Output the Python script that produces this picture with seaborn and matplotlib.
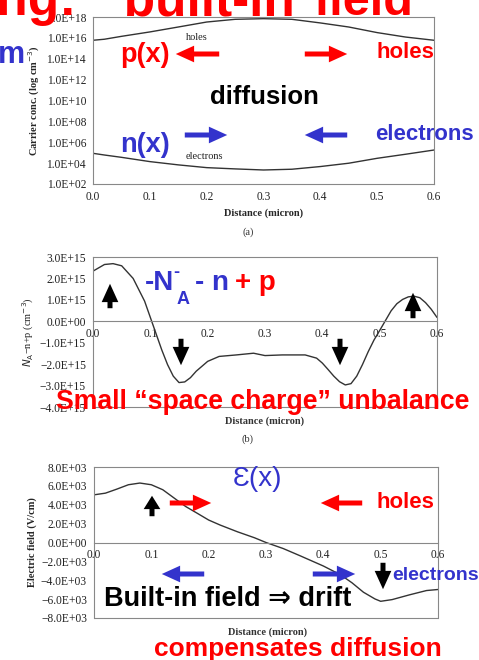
import numpy as np
import pandas as pd
import matplotlib
matplotlib.use("Agg")
import matplotlib.pyplot as plt
import seaborn as sns

# ---------------- data ----------------
dist_a = [0.0, 0.02, 0.05, 0.1, 0.15, 0.2, 0.25, 0.3, 0.35, 0.4, 0.45, 0.5, 0.55, 0.6]
holes = [5.9e15, 7.4e15, 1.4e16, 3.7e16, 1.1e17, 3.3e17, 6.0e17, 6.9e17, 6.0e17,
         2.7e17, 1.1e17, 3.2e16, 1.2e16, 5.9e15]
electrons = [8.7e4, 6.0e4, 3.6e4, 1.4e4, 6.8e3, 3.7e3, 2.8e3, 2.2e3, 2.6e3,
             4.7e3, 9.8e3, 2.9e4, 7.1e4, 1.8e5]

dist_b = [0.0, 0.02, 0.035, 0.05, 0.07, 0.09, 0.10, 0.11, 0.12, 0.13, 0.14, 0.15, 0.16,
          0.17, 0.18, 0.20, 0.22, 0.25, 0.28, 0.30, 0.33, 0.37, 0.39, 0.40, 0.41, 0.42,
          0.43, 0.44, 0.45, 0.46, 0.47, 0.48, 0.49, 0.50, 0.51, 0.52, 0.53, 0.54, 0.55,
          0.56, 0.57, 0.58, 0.59, 0.60]
charge = [2.34, 2.65, 2.69, 2.59, 2.0, 0.94, 0.18, -0.58, -1.34, -2.02, -2.56, -2.86,
          -2.83, -2.63, -2.33, -1.87, -1.64, -1.57, -1.49, -1.60, -1.57, -1.57, -1.72,
          -1.95, -2.25, -2.56, -2.82, -2.97, -2.91, -2.56, -2.02, -1.42, -0.88, -0.43,
          0.03, 0.49, 0.82, 1.02, 1.14, 1.17, 1.10, 0.87, 0.56, 0.18]  # x 1e15 cm^-3

dist_c = [0.0, 0.02, 0.04, 0.06, 0.08, 0.10, 0.12, 0.14, 0.16, 0.18, 0.20, 0.22, 0.25,
          0.28, 0.30, 0.33, 0.36, 0.40, 0.43, 0.45, 0.47, 0.49, 0.50, 0.52, 0.55, 0.58, 0.60]
efield = [5.05, 5.23, 5.66, 6.12, 6.30, 6.12, 5.59, 4.70, 3.81, 3.10, 2.38, 1.85, 1.14,
          0.50, 0.0, -0.64, -1.42, -2.49, -3.42, -4.27, -5.27, -5.98, -6.23, -6.05, -5.55,
          -5.09, -4.98]  # x 1e3 V/cm

xticks = [0.0, 0.1, 0.2, 0.3, 0.4, 0.5, 0.6]
xtick_labels = ["0.0", "0.1", "0.2", "0.3", "0.4", "0.5", "0.6"]
a_ticks = [1e2, 1e4, 1e6, 1e8, 1e10, 1e12, 1e14, 1e16, 1e18]
a_labels = ["1.0E+02", "1.0E+04", "1.0E+06", "1.0E+08", "1.0E+10", "1.0E+12",
            "1.0E+14", "1.0E+16", "1.0E+18"]
b_ticks = [-4, -3, -2, -1, 0, 1, 2, 3]
b_labels = ["\u22124.0E+15", "\u22123.0E+15", "\u22122.0E+15", "\u22121.0E+15",
            "0.0E+00", "1.0E+15", "2.0E+15", "3.0E+15"]
c_ticks = [-8, -6, -4, -2, 0, 2, 4, 6, 8]
c_labels = ["\u22128.0E+03", "\u22126.0E+03", "\u22124.0E+03", "\u22122.0E+03",
            "0.0E+00", "2.0E+03", "4.0E+03", "6.0E+03", "8.0E+03"]

# ---------------- figure ----------------
sns.set_theme(style="white")
plt.rcParams["font.family"] = ["Liberation Serif", "DejaVu Serif"]
W, H = 479, 660
fig = plt.figure(figsize=(W / 100, H / 100), dpi=100)
fig.patch.set_facecolor("white")

SANS = ["Liberation Sans", "DejaVu Sans"]
RED = "#ff0000"
BLUE = "#3333cc"
FRAME = "#888888"
LINE = "#333333"


def ax_at(left, top, right, bottom):
    return fig.add_axes([left / W, 1 - bottom / H, (right - left) / W, (bottom - top) / H])


def style_frame(ax):
    for s in ax.spines.values():
        s.set_color(FRAME)
        s.set_linewidth(0.8)
    ax.tick_params(axis="both", direction="inout", length=6, width=0.8, color="#555555",
                   labelsize=8.3, labelcolor="#222222", pad=2)
    ax.set_facecolor("none")


# ---- (a) carrier concentration ----
ax1 = ax_at(93, 17, 434, 184)
dfa = pd.DataFrame({"x": dist_a, "holes": holes, "electrons": electrons})
sns.lineplot(data=dfa, x="x", y="holes", ax=ax1, color=LINE, lw=1.0)
sns.lineplot(data=dfa, x="x", y="electrons", ax=ax1, color=LINE, lw=1.0)
ax1.set_yscale("log")
ax1.set_xlim(0, 0.6)
ax1.set_ylim(1e2, 1e18)
ax1.set_yticks(a_ticks)
ax1.set_yticklabels(a_labels)
ax1.minorticks_off()
ax1.set_xticks(xticks)
ax1.set_xticklabels(xtick_labels)
style_frame(ax1)
ax1.set_xlabel("Distance (micron)", fontsize=7.5, fontweight="bold", labelpad=4)
ax1.set_ylabel("Carrier conc. (log cm$^{-3}$)", fontsize=7.5, fontweight="bold", labelpad=3)
ax1.text(0.163, 1.0e16, "holes", fontsize=7.5, color="#222222", va="center")
ax1.text(0.163, 4.0e4, "electrons", fontsize=7.5, color="#222222", va="center")

# ---- (b) space charge ----
ax2 = ax_at(93, 257, 437, 407)
dfb = pd.DataFrame({"x": dist_b, "q": charge})
sns.lineplot(data=dfb, x="x", y="q", ax=ax2, color=LINE, lw=1.0)
ax2.set_xlim(0, 0.6)
ax2.set_ylim(-4, 3)
ax2.set_yticks(b_ticks)
ax2.set_yticklabels(b_labels)
ax2.set_xticks(xticks)
ax2.set_xticklabels(xtick_labels)
style_frame(ax2)
ax2.spines["bottom"].set_position(("data", 0))
ax2.plot([0, 1], [0, 0], transform=ax2.transAxes, color=FRAME, lw=0.8, clip_on=False)
ax2.set_xlabel("")
ax2.set_ylabel("$N_\\mathrm{A}$\u2212n+p (cm$^{-3}$)", fontsize=7.5, labelpad=3)

# ---- (c) electric field ----
ax3 = ax_at(94, 467, 438, 618)
dfc = pd.DataFrame({"x": dist_c, "E": efield})
sns.lineplot(data=dfc, x="x", y="E", ax=ax3, color=LINE, lw=1.0)
ax3.set_xlim(0, 0.6)
ax3.set_ylim(-8, 8)
ax3.set_yticks(c_ticks)
ax3.set_yticklabels(c_labels)
ax3.set_xticks(xticks)
ax3.set_xticklabels(xtick_labels)
style_frame(ax3)
ax3.spines["bottom"].set_position(("data", 0))
ax3.plot([0, 1], [0, 0], transform=ax3.transAxes, color=FRAME, lw=0.8, clip_on=False)
ax3.set_xlabel("")
ax3.set_ylabel("Electric field (V/cm)", fontsize=7.5, fontweight="bold", labelpad=3)

# ---------------- slide overlay ----------------
def T(x, y, s, color="black", size=16, ha="left", va="center", weight="bold", family=SANS):
    fig.text(x / W, 1 - y / H, s, color=color, fontsize=size, ha=ha, va=va,
             fontweight=weight, family=family)


def A(x1, y1, x2, y2, color, hl=1.1):
    fig.add_artist(matplotlib.patches.FancyArrowPatch(
        (x1 / W, 1 - y1 / H), (x2 / W, 1 - y2 / H), transform=fig.transFigure,
        arrowstyle=f"simple,head_width=1.0,head_length={hl},tail_width=0.3",
        mutation_scale=12, color=color, lw=0))


# captions in book figure
T(248, 232, "(a)", color="#333333", size=7.5, ha="center", weight="normal",
  family=["Liberation Serif"])
T(265, 421, "Distance (micron)", color="#333333", size=7.5, ha="center",
  family=["Liberation Serif"])
T(248, 439, "(b)", color="#333333", size=7.5, ha="center", weight="normal",
  family=["Liberation Serif"])
T(268, 632, "Distance (micron)", color="#333333", size=7.5, ha="center",
  family=["Liberation Serif"])

# title strip at top (cut off)
fig.text(77 / W, 1 - 15 / H, "ing:", color=RED, fontsize=37,
         fontweight="bold", family=SANS, ha="right", va="baseline")
fig.text(98 / W, 1 - 15 / H, "\u201cbuilt-in\u201d", color=RED, fontsize=37,
         fontweight="bold", family=SANS, ha="left", va="baseline")
fig.text(313 / W, 1 - 15 / H, "field", color=RED, fontsize=35,
         fontweight="bold", family=SANS, ha="left", va="baseline")
T(-2, 55, "m", color=BLUE, size=22)

# panel (a)
T(120, 55, "p(x)", color=RED, size=19.5)
A(222, 54, 173, 54, RED)
A(302, 54, 350, 54, RED)
T(376, 53, "holes", color=RED, size=16)
T(210, 97, "diffusion", color="black", size=18.5)
T(120, 145, "n(x)", color=BLUE, size=19.5)
A(182, 135, 230, 135, BLUE)
A(350, 135, 302, 135, BLUE)
T(375, 135, "electrons", color=BLUE, size=16)

# panel (b)
T(145, 283, "-N", color=BLUE, size=20)
T(173, 273, "-", color=BLUE, size=13)
T(177, 299, "A", color=BLUE, size=13)
T(195, 283, "- n", color=BLUE, size=20)
T(235, 283, "+ p", color=RED, size=20)
A(110, 311, 110, 281, "black")
A(181, 336, 181, 368, "black")
A(340, 336, 340, 368, "black")
A(413, 321, 413, 290, "black")
T(263, 402, "Small \u201cspace charge\u201d unbalance", color=RED, size=19.2, ha="center")

# panel (c)
T(233, 479, "\u0190(x)", color=BLUE, size=20, weight="normal")
A(152, 519, 152, 493, "black", hl=0.8)
A(167, 503, 214, 503, RED)
A(365, 503, 318, 503, RED)
T(377, 503, "holes", color=RED, size=16)
A(207, 574, 159, 574, BLUE)
A(310, 574, 358, 574, BLUE)
A(383, 560, 383, 592, "black")
T(392, 575, "electrons", color=BLUE, size=14)
T(104, 599, "Built-in field \u21d2 drift", color="black", size=19.5)
T(298, 649, "compensates diffusion", color=RED, size=19, ha="center")

fig.savefig("out.png", dpi=100)
